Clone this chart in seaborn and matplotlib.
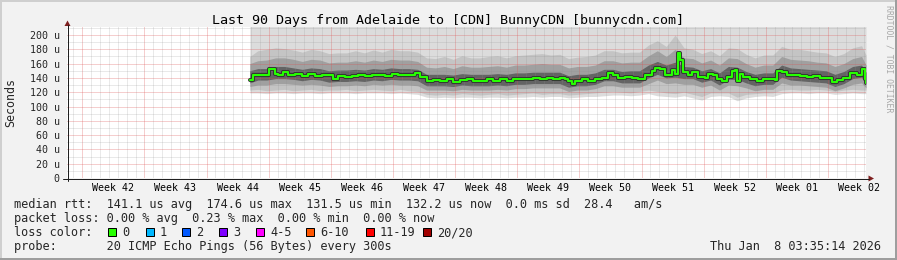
import matplotlib
matplotlib.use("Agg")
import matplotlib.pyplot as plt
import matplotlib.transforms as mtransforms
from matplotlib.patches import Rectangle, Polygon
from matplotlib.lines import Line2D
import seaborn as sns

# ---------------- data ----------------
title = "Last 90 Days from Adelaide to [CDN] BunnyCDN [bunnycdn.com]"
week_labels = ["Week 42", "Week 43", "Week 44", "Week 45", "Week 46", "Week 47", "Week 48",
               "Week 49", "Week 50", "Week 51", "Week 52", "Week 01", "Week 02"]
y_ticks = [0, 20, 40, 60, 80, 100, 120, 140, 160, 180, 200]
y_tick_labels = ["0", "20 u", "40 u", "60 u", "80 u", "100 u", "120 u", "140 u", "160 u", "180 u", "200 u"]

# median rtt (microseconds) at sample times (days since start of the 90 day window)
med_t = [20.61, 20.95, 21.74, 22.53, 22.75, 23.43, 23.76, 24.33, 24.89, 25.68, 26.47, 27.14, 27.93,
         28.72, 29.40, 29.96, 30.53, 31.31, 32.10, 32.78, 33.56, 34.35, 35.03, 35.81, 36.60, 37.28,
         38.07, 38.63, 39.19, 39.76, 40.55, 41.22, 42.01, 42.80, 43.47, 44.26, 45.05, 45.73, 46.51,
         47.30, 47.98, 48.77, 49.56, 50.23, 51.02, 51.81, 52.48, 53.27, 54.06, 54.74, 55.52, 56.09,
         56.43, 56.88, 57.21, 58.00, 58.68, 59.47, 60.25, 60.93, 61.49, 62.06, 62.84, 63.63, 64.31,
         65.10, 65.89, 66.22, 66.79, 67.35, 68.14, 68.48, 68.81, 69.04, 69.38, 69.94, 70.39, 71.07,
         71.86, 72.19, 72.76, 73.21, 73.77, 74.33, 74.90, 75.24, 75.46, 75.80, 76.14, 76.93, 77.71,
         78.39, 79.18, 79.74, 79.97, 80.53, 81.09, 81.77, 82.55, 83.34, 84.02, 84.81, 85.60, 86.16,
         86.72, 87.40, 88.19, 88.97, 89.54, 89.88, 90.00]
med_v = [137.0, 143.6, 143.6, 143.6, 153.0, 146.0, 144.5, 148.0, 143.6, 146.0, 142.7, 146.0, 142.7,
         144.5, 143.6, 138.0, 142.7, 141.0, 142.7, 143.6, 142.0, 143.6, 144.5, 142.7, 146.0, 143.6,
         143.6, 143.6, 147.0, 141.0, 135.0, 136.5, 135.0, 138.0, 134.5, 136.5, 138.0, 135.0, 135.5,
         138.0, 135.0, 138.0, 135.0, 138.0, 139.0, 138.0, 140.0, 138.0, 140.0, 138.0, 140.0, 138.0,
         135.0, 131.5, 135.0, 138.0, 135.0, 138.0, 140.0, 147.0, 143.6, 140.0, 141.0, 140.0, 138.0,
         144.5, 149.0, 154.0, 153.0, 144.5, 150.6, 146.0, 174.6, 165.0, 148.0, 144.5, 148.0, 141.0,
         140.0, 146.0, 143.6, 138.0, 135.0, 141.0, 149.0, 150.6, 135.0, 146.0, 141.0, 139.0, 135.0,
         138.0, 139.0, 136.5, 149.0, 148.0, 144.5, 143.6, 142.7, 141.0, 142.7, 140.0, 140.0, 134.5,
         136.5, 140.0, 147.0, 144.5, 153.0, 138.0, 132.2]

# smoke (ping distribution) sampled once a day
smoke_t = [20.6, 21.5, 22.5, 23.5, 24.5, 25.5, 26.5, 27.5, 28.5, 29.5,
           30.5, 31.5, 32.5, 33.5, 34.5, 35.5, 36.5, 37.5, 38.5, 39.5,
           40.5, 41.5, 42.5, 43.5, 44.5, 45.5, 46.5, 47.5, 48.5, 49.5,
           50.5, 51.5, 52.5, 53.5, 54.5, 55.5, 56.5, 57.5, 58.5, 59.5,
           60.5, 61.5, 62.5, 63.5, 64.5, 65.5, 66.5, 67.5, 68.5, 69.5,
           70.5, 71.5, 72.5, 73.5, 74.5, 75.5, 76.5, 77.5, 78.5, 79.5,
           80.5, 81.5, 82.5, 83.5, 84.5, 85.5, 86.5, 87.5, 88.5, 89.5, 90.0]
smoke_min = [119, 119, 118, 119, 119, 118, 119, 119, 118, 119,
             119, 119, 118, 119, 119, 119, 118, 119, 118, 117,
             113, 112, 113, 112, 113, 113, 112, 113, 113, 112,
             113, 113, 114, 113, 114, 114, 112, 113, 114, 114,
             115, 116, 116, 115, 116, 118, 115, 114, 113, 115,
             112, 109, 114, 115, 114, 108, 112, 114, 115, 114,
             118, 119, 119, 118, 119, 119, 117, 118, 119, 118, 118]
smoke_max = [215, 215, 215, 215, 215, 215, 215, 215, 215, 215,
             215, 215, 215, 215, 215, 215, 215, 215, 215, 215,
             215, 215, 215, 215, 215, 215, 215, 215, 215, 215,
             215, 215, 215, 215, 215, 215, 215, 215, 215, 215,
             215, 215, 215, 215, 215, 215, 215, 215, 215, 215,
             215, 215, 215, 215, 215, 215, 215, 215, 215, 215,
             215, 215, 215, 215, 215, 215, 215, 215, 215, 215, 215]
smoke_p10 = [123, 124, 122, 123, 124, 122, 123, 124, 122, 123,
             123, 124, 122, 123, 124, 123, 122, 124, 122, 121,
             117, 116, 117, 116, 118, 117, 116, 117, 118, 116,
             117, 118, 119, 117, 118, 118, 116, 117, 118, 119,
             120, 121, 120, 119, 121, 123, 121, 119, 118, 120,
             117, 114, 119, 119, 119, 113, 117, 118, 119, 119,
             123, 124, 123, 123, 124, 123, 121, 123, 124, 123, 123]
smoke_p90 = [170, 178, 180, 182, 181, 179, 176, 180, 178, 174,
             175, 175, 178, 175, 179, 176, 180, 178, 178, 176,
             168, 167, 170, 166, 171, 168, 168, 170, 171, 168,
             171, 172, 173, 174, 172, 173, 167, 169, 170, 172,
             178, 178, 175, 176, 176, 186, 192, 184, 200, 182,
             180, 174, 178, 171, 182, 181, 173, 168, 172, 172,
             184, 180, 180, 178, 176, 175, 170, 174, 182, 185, 172]
smoke_p25 = [128, 130, 130, 132, 132, 131, 130, 131, 130, 128,
             129, 129, 130, 129, 131, 130, 131, 130, 130, 129,
             123, 123, 123, 122, 124, 123, 123, 123, 124, 123,
             125, 125, 126, 126, 126, 126, 121, 123, 123, 125,
             129, 129, 127, 127, 127, 132, 137, 132, 133, 131,
             131, 127, 130, 123, 130, 129, 126, 122, 124, 124,
             133, 130, 130, 129, 128, 127, 122, 126, 131, 133, 126]
smoke_p75 = [160, 164, 165, 168, 168, 166, 163, 166, 165, 161,
             162, 162, 164, 162, 165, 163, 166, 165, 165, 163,
             155, 154, 156, 153, 157, 155, 155, 156, 157, 155,
             158, 158, 159, 160, 159, 159, 154, 156, 156, 158,
             164, 164, 161, 162, 162, 171, 178, 170, 180, 168,
             167, 161, 165, 158, 168, 167, 160, 155, 158, 158,
             170, 166, 165, 164, 162, 161, 156, 160, 167, 170, 158]
smoke_p40 = [133, 137, 137, 139, 139, 138, 136, 138, 137, 134,
             135, 135, 136, 135, 137, 136, 138, 137, 137, 136,
             129, 129, 129, 128, 130, 129, 129, 129, 130, 129,
             131, 131, 132, 132, 132, 132, 127, 129, 129, 131,
             136, 136, 133, 133, 133, 140, 145, 140, 141, 139,
             139, 134, 137, 130, 138, 138, 133, 129, 131, 131,
             141, 137, 136, 135, 134, 133, 128, 132, 139, 141, 131]
smoke_p60 = [150, 153, 153, 156, 156, 154, 152, 154, 153, 150,
             151, 151, 152, 151, 153, 152, 154, 153, 153, 152,
             145, 145, 145, 144, 146, 145, 145, 145, 146, 145,
             147, 147, 148, 148, 148, 148, 143, 145, 145, 147,
             152, 152, 149, 150, 150, 158, 163, 158, 162, 156,
             155, 150, 153, 147, 156, 155, 149, 145, 147, 147,
             158, 154, 153, 152, 151, 150, 145, 149, 156, 158, 148]

legend_rtt = "median rtt:  141.1 us avg  174.6 us max  131.5 us min  132.2 us now  0.0 ms sd  28.4   am/s"
legend_loss = "packet loss: 0.00 % avg  0.23 % max  0.00 % min  0.00 % now"
loss_title = "loss color:"
loss_labels = ["0", "1", "2", "3", "4-5", "6-10", "11-19", "20/20"]
loss_colors = ["#26ff00", "#00b8ff", "#0059ff", "#7e00ff", "#ff00ff", "#ff5500", "#ff0000", "#a10000"]
probe_text = "probe:       20 ICMP Echo Pings (56 Bytes) every 300s"
stamp_text = "Thu Jan  8 03:35:14 2026"
side_text = "RRDTOOL / TOBI OETIKER"

# ---------------- layout helpers ----------------
W, H = 897, 260
def fx(x):
    return x / W
def fy(y):
    return 1 - y / H

sns.set_style("white")
plt.rcParams["font.family"] = ["DejaVu Sans Mono", "DejaVu Sans"]
plt.rcParams["lines.scale_dashes"] = True

fig = plt.figure(figsize=(W / 100, H / 100), dpi=100, facecolor="#f2f2f2")
ax = fig.add_axes([fx(67), 82 / H, 799 / W, 151 / H])
ax.set_facecolor("white")
for s in ax.spines.values():
    s.set_visible(False)
ax.set_xlim(0, 90)
ax.set_ylim(0, 211.2)

# smoke bands
bands = [(smoke_min, smoke_max, "#dcdcdc"),
         (smoke_p10, smoke_p90, "#c4c4c4"),
         (smoke_p25, smoke_p75, "#a0a0a0"),
         (smoke_p40, smoke_p60, "#646464")]
for lo, hi, col in bands:
    ax.fill_between(smoke_t, lo, hi, color=col, linewidth=0, zorder=1)

# grid (drawn over the smoke like rrdtool)
minor_c = (0.56, 0.56, 0.56, 0.38)
major_c = (0.87, 0.31, 0.31, 0.55)
dots = (0, (1, 1))
day0 = 1.72
k = 0
while day0 - 1 + k <= 90:
    t = day0 - 1 + k
    if k % 7 != 1:
        ax.axvline(t, color=minor_c, lw=0.72, ls=dots, zorder=2)
    k += 1
for i in range(13):
    ax.axvline(day0 + 7 * i, color=major_c, lw=0.72, ls=dots, zorder=2)
for v in range(10, 211, 20):
    ax.axhline(v, color=minor_c, lw=0.72, ls=dots, zorder=2)
for v in range(20, 201, 20):
    ax.axhline(v, color=major_c, lw=0.72, ls=dots, zorder=2)

# median line with dark core
sns.lineplot(x=med_t, y=med_v, ax=ax, color="#333333", linewidth=2.9, drawstyle="steps-post",
             estimator=None, sort=False, errorbar=None, zorder=3)
sns.lineplot(x=med_t, y=med_v, ax=ax, color="#26ff00", linewidth=1.5, drawstyle="steps-post",
             estimator=None, sort=False, errorbar=None, zorder=4)

# ticks
ax.set_yticks(y_ticks, y_tick_labels)
ax.tick_params(axis="y", length=0, pad=5.3, labelsize=7.2)
ax.set_xticks([day0 + 7 * i for i in range(13)])
ax.tick_params(axis="x", length=2.0, width=0.72, color="#1f1f1f", direction="out", labelbottom=False)
ax.set_xlabel("")
ax.set_ylabel("")
blend = mtransforms.blended_transform_factory(ax.transData, fig.transFigure)
for i, lab in enumerate(week_labels):
    ax.text(day0 + 3.5 + 7 * i, fy(190.7), lab, transform=blend, ha="center", va="baseline",
            fontsize=7.2, color="black", clip_on=False)

# axes lines and arrows
fig.add_artist(Line2D([fx(67.5), fx(67.5)], [fy(181), fy(25)], color="#1f1f1f", lw=0.72))
fig.add_artist(Line2D([fx(63), fx(869)], [fy(178.5), fy(178.5)], color="#1f1f1f", lw=0.72))
fig.add_artist(Polygon([[fx(67.5), fy(20.5)], [fx(64.5), fy(26)], [fx(70.5), fy(26)]],
                       closed=True, transform=fig.transFigure, color="#7f1f1f", lw=0))
fig.add_artist(Polygon([[fx(874), fy(178.5)], [fx(868.5), fy(175.5)], [fx(868.5), fy(181.5)]],
                       closed=True, transform=fig.transFigure, color="#7f1f1f", lw=0))

# frame (rrdtool shading)
fig.add_artist(Rectangle((0, fy(2)), 1, 2 / H, transform=fig.transFigure, color="#cfcfcf", lw=0))
fig.add_artist(Rectangle((0, 0), 2 / W, 1, transform=fig.transFigure, color="#cfcfcf", lw=0))
fig.add_artist(Rectangle((0, 0), 1, 2 / H, transform=fig.transFigure, color="#9e9e9e", lw=0))
fig.add_artist(Rectangle((fx(895), 0), 2 / W, 1, transform=fig.transFigure, color="#9e9e9e", lw=0))

# texts
fig.text(fx(448), fy(24), title, ha="center", va="baseline", fontsize=9.6, color="black")
fig.text(fx(11), fy(102.5), "Seconds", rotation=90, ha="center", va="center", fontsize=8.4)
fig.text(fx(889), fy(5), side_text, rotation=270, ha="center", va="top", fontsize=5.9, color="#a8a8a8")

LF = 8.55
fig.text(fx(14.4), fy(208), legend_rtt, ha="left", va="baseline", fontsize=LF)
fig.text(fx(14.4), fy(222), legend_loss, ha="left", va="baseline", fontsize=LF)
fig.text(fx(14.4), fy(236), loss_title, ha="left", va="baseline", fontsize=LF)
box_x = [108, 146, 182, 219, 256, 306, 366, 423]
for bx, lab, col in zip(box_x, loss_labels, loss_colors):
    fig.add_artist(Rectangle((fx(bx), fy(236)), 8 / W, 8 / H, transform=fig.transFigure,
                             facecolor=col, edgecolor="black", lw=0.72))
    fig.text(fx(bx + 14), fy(236), lab, ha="left", va="baseline", fontsize=LF)
fig.text(fx(14.4), fy(250), probe_text, ha="left", va="baseline", fontsize=LF)
fig.text(fx(881), fy(250), stamp_text, ha="right", va="baseline", fontsize=LF)

fig.savefig("out.png", dpi=100, facecolor=fig.get_facecolor())
